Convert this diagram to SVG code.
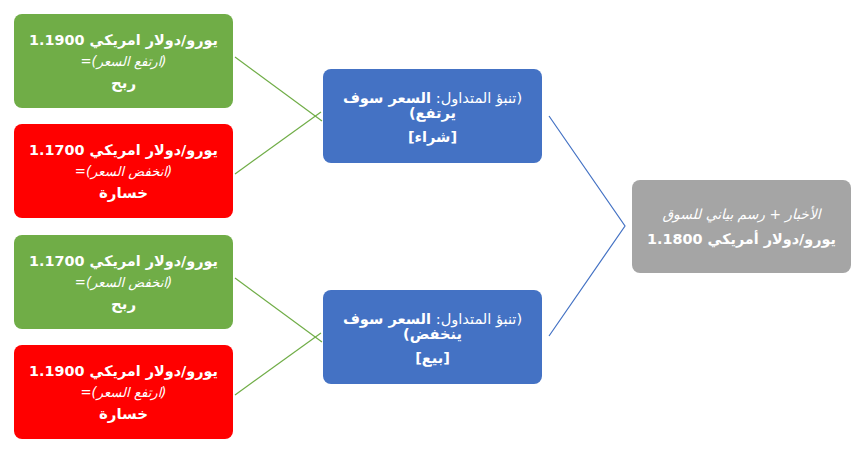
<svg xmlns="http://www.w3.org/2000/svg" width="863" height="453" viewBox="0 0 863 453">
<style>
.box{stroke:none}
.g{fill:#70AD47}.r{fill:#FF0000}.b{fill:#4472C4}.gr{fill:#A5A5A5}
text{font-family:"DejaVu Sans",sans-serif;fill:#fff;text-anchor:middle;direction:rtl;unicode-bidi:embed}
.t1{font-size:14.4px;font-weight:bold}
.t2{font-size:13.2px;font-style:italic}
.t3{font-size:15px;font-weight:bold}
.bt{font-size:14.6px}
.bb{font-weight:bold}
.lg{stroke:#70AD47;stroke-width:1.2;fill:none}
.lb{stroke:#4472C4;stroke-width:1.2;fill:none}
</style>
<rect width="863" height="453" fill="#fff"/>
<g id="connectors">
<line class="lg" x1="235" y1="57" x2="322" y2="121"/>
<line class="lg" x1="235" y1="174" x2="321" y2="112"/>
<line class="lg" x1="235" y1="278" x2="322" y2="342"/>
<line class="lg" x1="235" y1="395" x2="321" y2="333"/>
<polyline class="lb" points="549,116 625,226 549,336"/>
</g>
<g id="win-up">
<rect class="box g" x="14" y="14" width="219" height="94" rx="8"/>
<text class="t1" x="123.5" y="45">يورو/دولار امريكي 1.1900</text>
<text class="t2" x="123.5" y="66">(ارتفع السعر)=</text>
<text class="t3" x="123.5" y="88">ربح</text>
</g>
<g id="loss-down">
<rect class="box r" x="14" y="124" width="219" height="94" rx="8"/>
<text class="t1" x="123.5" y="155">يورو/دولار امريكي 1.1700</text>
<text class="t2" x="123.5" y="176">(انخفض السعر)=</text>
<text class="t3" x="123.5" y="198">خسارة</text>
</g>
<g id="win-down">
<rect class="box g" x="14" y="235" width="219" height="94" rx="8"/>
<text class="t1" x="123.5" y="266">يورو/دولار امريكي 1.1700</text>
<text class="t2" x="123.5" y="287">(انخفض السعر)=</text>
<text class="t3" x="123.5" y="309">ربح</text>
</g>
<g id="loss-up">
<rect class="box r" x="14" y="345" width="219" height="94" rx="8"/>
<text class="t1" x="123.5" y="376">يورو/دولار امريكي 1.1900</text>
<text class="t2" x="123.5" y="397">(ارتفع السعر)=</text>
<text class="t3" x="123.5" y="419">خسارة</text>
</g>
<g id="buy">
<rect class="box b" x="323" y="69" width="219" height="94" rx="8"/>
<text class="bt" x="432.5" y="103">(تنبؤ المتداول: <tspan class="bb">السعر سوف</tspan></text>
<text class="bt bb" x="432.5" y="118">يرتفع)</text>
<text class="bt bb" x="432.5" y="142">[شراء]</text>
</g>
<g id="sell">
<rect class="box b" x="323" y="290" width="219" height="94" rx="8"/>
<text class="bt" x="432.5" y="324">(تنبؤ المتداول: <tspan class="bb">السعر سوف</tspan></text>
<text class="bt bb" x="432.5" y="339">ينخفض)</text>
<text class="bt bb" x="432.5" y="363">[بيع]</text>
</g>
<g id="market">
<rect class="box gr" x="632" y="180" width="219" height="93" rx="8"/>
<text class="t2" x="741.5" y="219" style="font-size:13.8px">الأخبار + رسم بياني للسوق</text>
<text class="t1" x="741.5" y="244">يورو/دولار أمريكي 1.1800</text>
</g>
</svg>
